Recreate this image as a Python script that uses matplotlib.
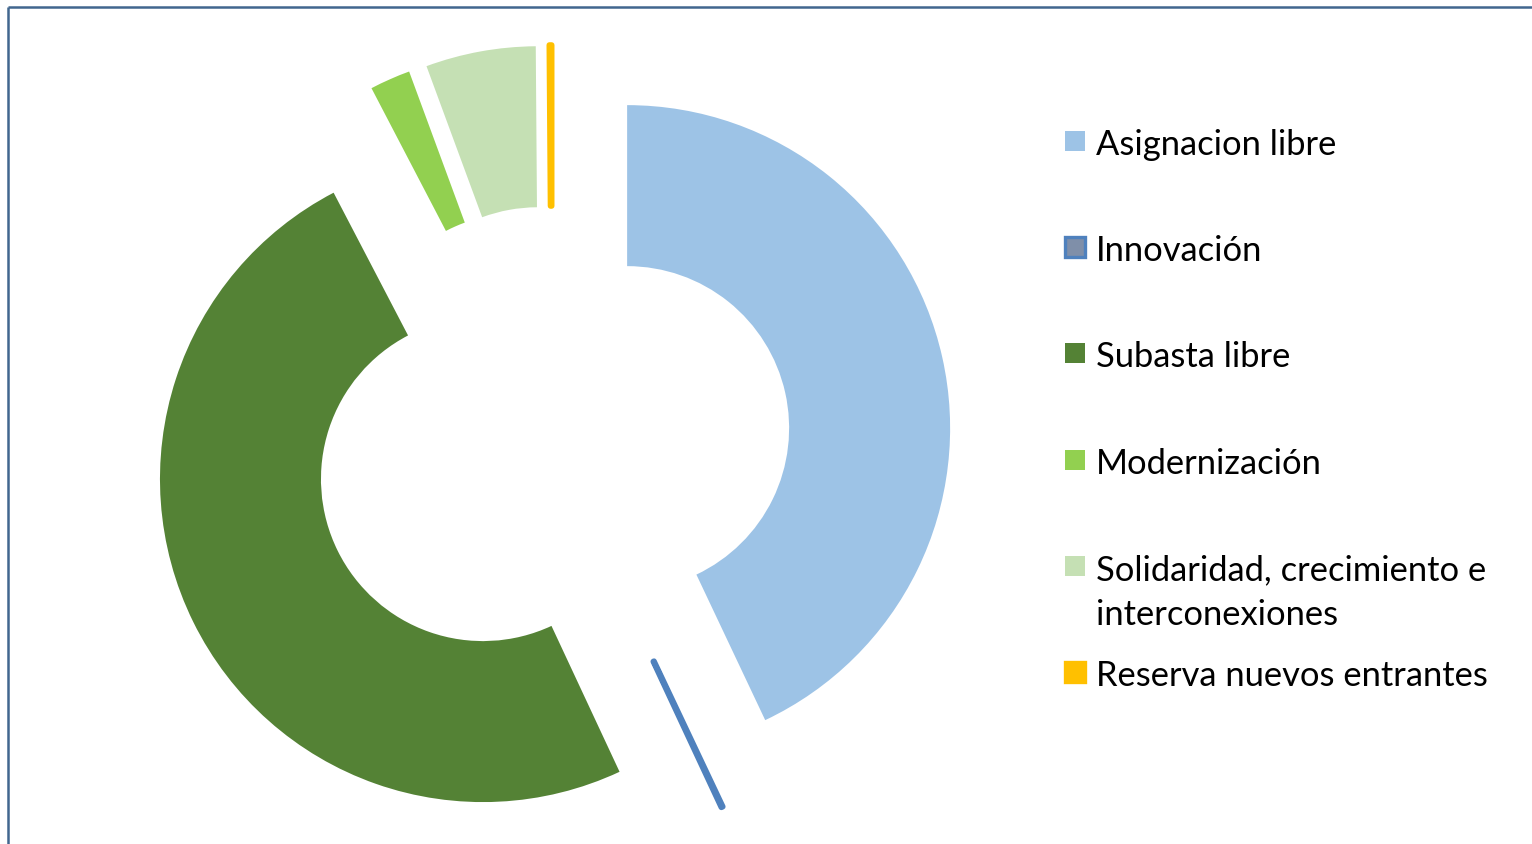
import matplotlib.pyplot as plt
from matplotlib.patches import Rectangle

labels = ['Asignacion libre', 'Innovación', 'Subasta libre', 'Modernización',
          'Solidaridad, crecimiento e\ninterconexiones', 'Reserva nuevos entrantes']
values = [42.97, 0.08, 49.30, 2.03, 5.50, 0.12]
fills = ['#9DC3E6', '#7F8FA9', '#548235', '#92D050', '#C5E0B4', '#FFC000']
edges = ['#9DC3E6', '#4F81BD', '#548235', '#92D050', '#C5E0B4', '#FFC000']
edge_w = [0, 4, 0, 0, 0, 4]

W, H = 1532, 845
fig = plt.figure(figsize=(W / 100, H / 100), dpi=100)
ax = fig.add_axes([0, 0, 1, 1])

wedges, _ = ax.pie(values, colors=fills, startangle=90, counterclock=False,
                   radius=323, center=(552, H - 446), explode=[77] * len(values),
                   wedgeprops=dict(width=161), frame=True)
for w, ec, lw in zip(wedges, edges, edge_w):
    w.set_edgecolor(ec)
    w.set_linewidth(lw)
    w.set_joinstyle('round')
ax.set_xlim(0, W)
ax.set_ylim(0, H)
ax.set_aspect('equal')
ax.set_axis_off()

# legend, one row per category
for i, (lab, fc, ec, lw) in enumerate(zip(labels, fills, edges, edge_w)):
    y = H - (142 + 106.2 * i)
    ax.add_patch(Rectangle((1065, y - 10), 20, 20, facecolor=fc,
                           edgecolor=ec, linewidth=lw * 0.6))
    for k, line in enumerate(lab.split('\n')):
        ax.text(1096, y - 45 * k, line, fontsize=24.8, family='Lato',
                va='center_baseline', color='black')

# chart frame
ax.plot([8, W], [H - 8, H - 8], color='#41668F', lw=1.8, solid_capstyle='butt')
ax.plot([8, 8], [H - 8, 0], color='#41668F', lw=1.8, solid_capstyle='butt')

fig.savefig('out.png', dpi=100)
